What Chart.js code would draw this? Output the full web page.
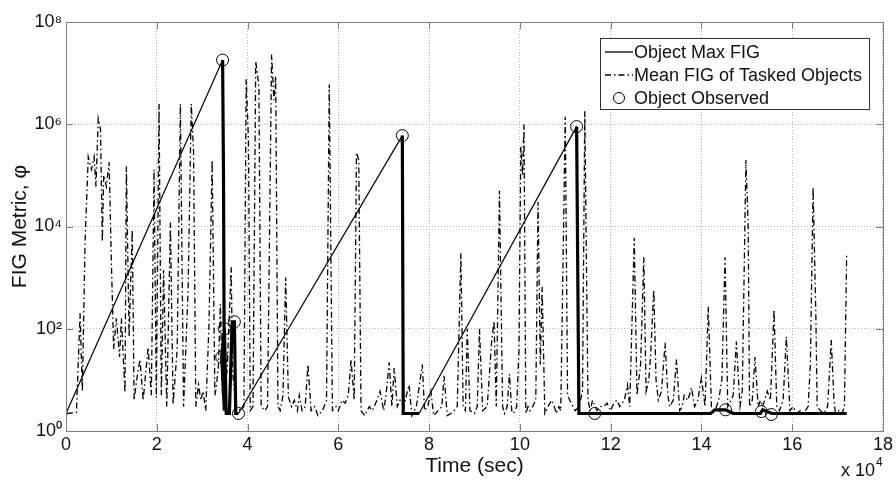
<!DOCTYPE html>
<html>
<head>
<meta charset="utf-8">
<script src="https://cdn.jsdelivr.net/npm/chart.js@4.4.1/dist/chart.umd.min.js"></script>
<style>
  html, body { margin: 0; padding: 0; background: #ffffff; }
  #wrap { width: 896px; height: 483px; }
</style>
</head>
<body>
<div id="wrap"><canvas id="figChart" width="896" height="483"></canvas></div>
<script>
'use strict';

/* ── Data (time in units of 1e4 sec) ─────────────── */
var yTickVals = [1, 1e2, 1e4, 1e6, 1e8];

/* Object Max FIG: log-linear ramps, then drops after each observation */
var maxT   = [0,   3.45,  3.47, 3.49, 3.43, 3.49, 3.53, 3.60, 3.66, 3.71, 3.74, 3.80, 7.41,  7.43, 7.78, 11.25, 11.30, 11.65, 14.20, 14.30, 14.53, 14.70, 15.30, 15.35, 15.55, 17.20];
var maxFig = [2.2, 1.8e7, 1e5,  2.5,  28,   100,  2.2,  2.2,  137,  137,  2.2,  2.2,  6.0e5, 2.2,  2.2,  9.0e5, 2.2,   2.2,   2.2,   2.6,   2.6,   2.2,   2.2,   2.6,   2.2,   2.2];

/* Object observed markers */
var obsT   = [3.45,  3.43, 3.49, 3.71, 3.80, 7.41,  11.25, 11.65, 14.53, 15.32, 15.54];
var obsFig = [1.8e7, 28,   100,  137,  2.2,  6.0e5, 9.0e5, 2.2,   2.6,   2.4,   2.1];

/* Mean FIG of tasked objects */
var meanT = [
  0.02, 0.23, 0.31, 0.36, 0.42, 0.49, 0.56, 0.62, 0.66, 0.71, 0.76, 0.80, 0.83, 0.89, 0.95,
  1.00, 1.05, 1.11, 1.18, 1.22, 1.30, 1.33, 1.39, 1.46, 1.50, 1.57, 1.63, 1.70, 1.76, 1.81,
  1.88, 1.94, 1.99, 2.05, 2.10, 2.15, 2.22, 2.30, 2.36, 2.45, 2.52, 2.59, 2.69, 2.76, 2.81,
  2.86, 2.92, 2.97, 3.02, 3.08, 3.15, 3.22, 3.28, 3.31, 3.36, 3.40, 3.45, 3.55, 3.64, 3.67,
  3.75, 3.85, 3.92, 3.97, 4.02, 4.06, 4.12, 4.18, 4.25, 4.30, 4.38, 4.44, 4.53, 4.58, 4.62,
  4.67, 4.72, 4.78, 4.84, 4.90, 4.97, 5.03, 5.10, 5.14, 5.20, 5.27, 5.33, 5.40, 5.48, 5.55,
  5.65, 5.74, 5.80, 5.87, 5.95, 6.00, 6.08, 6.15, 6.22, 6.28, 6.35, 6.40, 6.45, 6.50, 6.58,
  6.68, 6.75, 6.85, 6.92, 7.00, 7.05, 7.12, 7.18, 7.23, 7.30, 7.36, 7.45, 7.50, 7.56, 7.62,
  7.72, 7.85, 7.90, 7.97, 8.04, 8.10, 8.20, 8.28, 8.33, 8.40, 8.48, 8.55, 8.62, 8.70, 8.75,
  8.80, 8.84, 8.90, 9.00, 9.06, 9.11, 9.18, 9.28, 9.38, 9.43, 9.48, 9.55, 9.62, 9.66, 9.72,
  9.77, 9.82, 9.86, 9.93, 9.98, 10.02, 10.06, 10.09, 10.13, 10.18, 10.22, 10.28, 10.35, 10.40, 10.45,
  10.49, 10.55, 10.62, 10.70, 10.76, 10.80, 10.86, 10.90, 11.00, 11.05, 11.10, 11.17, 11.22, 11.30, 11.38,
  11.43, 11.50, 11.55, 11.60, 11.70, 11.78, 11.85, 11.92, 12.00, 12.07, 12.14, 12.20, 12.30, 12.37, 12.42,
  12.52, 12.58, 12.66, 12.73, 12.78, 12.84, 12.88, 12.95, 13.00, 13.05, 13.12, 13.20, 13.26, 13.30, 13.38,
  13.45, 13.52, 13.58, 13.62, 13.70, 13.78, 13.85, 13.92, 14.00, 14.08, 14.15, 14.22, 14.30, 14.38, 14.45,
  14.52, 14.58, 14.65, 14.70, 14.77, 14.85, 14.90, 14.98, 15.03, 15.06, 15.12, 15.18, 15.25, 15.30, 15.35,
  15.45, 15.52, 15.60, 15.66, 15.72, 15.80, 15.87, 15.95, 16.02, 16.10, 16.18, 16.25, 16.35, 16.40, 16.46,
  16.52, 16.55, 16.62, 16.70, 16.78, 16.86, 16.92, 16.95, 17.02, 17.10, 17.15, 17.20
];
var meanFig = [
  2.2, 2.3, 200, 6, 5000, 2.3e5, 1.3e5, 2.3e5, 6e4, 1.3e6, 8e5, 5000, 1e5, 6e4, 1.8e5,
  2000, 40, 160, 28, 160, 5.6, 1.5e5, 70, 8700, 4, 12, 25, 4, 15, 43,
  5, 1.3e5, 4.5, 2.5e6, 5, 1400, 3, 1.2e4, 3.3, 40, 2.5e6, 3, 580, 2.5e6, 3e5,
  3, 8, 4, 6, 2.5, 120, 2e5, 5, 7, 20, 300, 5, 15, 1600, 14,
  3, 2.5, 3, 7.6e6, 5e5, 2.5, 3, 1.7e7, 5.6e6, 3, 2.5, 3, 2.3e7, 3e6, 8.7e6,
  3, 2.5, 5, 1000, 4.6, 3, 4, 2.5, 5, 2.5, 3, 20, 2.5, 3, 2,
  2.5, 4, 6e6, 2.5, 3, 2.5, 4, 3.5, 5, 25, 4, 2.8e5, 2e5, 2.5, 2,
  3, 2.5, 4, 6, 2.5, 5, 22, 3, 17, 3, 4, 3, 5, 8, 2,
  3, 20, 2.5, 3, 6, 2, 2.5, 3, 12, 2, 2.2, 2.5, 3, 3000, 3,
  2.5, 100, 2.5, 2.2, 3, 100, 2.5, 3, 60, 140, 3, 5e4, 3, 2.2, 3,
  13, 2.5, 2.2, 3, 40, 3.7e5, 1e5, 1e6, 2.2, 3, 2.5, 3, 4, 3e4, 20,
  660, 2.2, 3, 4, 3, 2.2, 3, 2.5, 1.4e6, 5, 4, 3, 2.5, 3, 6,
  1.8e6, 4, 2.5, 4, 2.5, 3, 3, 3.5, 2.5, 3.5, 4, 3, 4, 8, 3,
  6000, 5, 20, 2500, 6, 10, 30, 580, 10, 4, 6, 53, 5, 3, 4,
  25, 2.5, 3, 5, 4, 7, 3, 4, 11, 3, 270, 3, 2.5, 4, 10,
  2500, 3, 4, 5, 56, 3, 6, 2e5, 1e4, 3, 4, 28, 3, 4, 3,
  6, 4, 235, 3, 2.5, 4, 70, 2.5, 3, 2.2, 2.5, 2.2, 3, 20, 5.8e4,
  200, 3, 2.5, 2.2, 3, 60, 4, 2.3, 2.5, 2.2, 3, 3000
];

var seriesLabels = ['Object Max FIG', 'Mean FIG of Tasked Objects', 'Object Observed'];

/* ── Helpers ────────────────────────────────────── */
function _pairs(xs, ys) {
  return xs.map(function (x, i) { return { x: x, y: ys[i] }; });
}
var _sup = { 0: '\u2070', 2: '\u00b2', 4: '\u2074', 6: '\u2076', 8: '\u2078' };

var FONT = "'Liberation Sans', Arial, sans-serif";
var AXIS_GRAY = '#7f7f7f';

/* ── Plugins: white bg, axes box w/ inward ticks, legend, exponent ── */
var matlabFrame = {
  id: 'matlabFrame',
  beforeDraw: function (chart) {
    var ctx = chart.ctx;
    ctx.save();
    ctx.fillStyle = '#ffffff';
    ctx.fillRect(0, 0, chart.width, chart.height);
    ctx.restore();
  },
  afterDraw: function (chart) {
    var ctx = chart.ctx, a = chart.chartArea;
    var xs = chart.scales.x, ys = chart.scales.y;
    ctx.save();
    ctx.strokeStyle = AXIS_GRAY;
    ctx.lineWidth = 1;
    ctx.strokeRect(Math.round(a.left) + 0.5, Math.round(a.top) + 0.5,
                   Math.round(a.right - a.left), Math.round(a.bottom - a.top));
    ctx.beginPath();
    xs.ticks.forEach(function (t) {
      var px = Math.round(xs.getPixelForValue(t.value)) + 0.5;
      ctx.moveTo(px, a.bottom); ctx.lineTo(px, a.bottom - 7);
      ctx.moveTo(px, a.top);    ctx.lineTo(px, a.top + 7);
    });
    ys.ticks.forEach(function (t) {
      var py = Math.round(ys.getPixelForValue(t.value)) + 0.5;
      ctx.moveTo(a.left, py);  ctx.lineTo(a.left + 7, py);
      ctx.moveTo(a.right, py); ctx.lineTo(a.right - 7, py);
    });
    ctx.stroke();

    /* x 10^4 multiplier */
    ctx.fillStyle = '#111';
    ctx.font = '18px ' + FONT;
    ctx.textAlign = 'right';
    ctx.textBaseline = 'alphabetic';
    ctx.fillText('x 10', a.right - 8, chart.height - 7);
    ctx.font = '12px ' + FONT;
    ctx.textAlign = 'left';
    ctx.fillText('4', a.right - 7, chart.height - 17);

    /* legend box */
    var lx = 600, ly = 38, lw = 269, lh = 71;
    ctx.fillStyle = '#ffffff';
    ctx.fillRect(lx, ly, lw, lh);
    ctx.strokeStyle = '#333';
    ctx.strokeRect(lx + 0.5, ly + 0.5, lw, lh);
    var rows = [ly + 14, ly + 37, ly + 60];
    ctx.strokeStyle = '#000';
    ctx.lineWidth = 1.3;
    ctx.beginPath(); ctx.moveTo(605, rows[0]); ctx.lineTo(633, rows[0]); ctx.stroke();
    ctx.setLineDash([6, 3, 1.5, 3]);
    ctx.beginPath(); ctx.moveTo(605, rows[1]); ctx.lineTo(633, rows[1]); ctx.stroke();
    ctx.setLineDash([]);
    ctx.lineWidth = 1;
    ctx.beginPath(); ctx.arc(619, rows[2], 5.5, 0, Math.PI * 2); ctx.stroke();
    ctx.fillStyle = '#111';
    ctx.font = '18px ' + FONT;
    ctx.textBaseline = 'middle';
    ctx.textAlign = 'left';
    seriesLabels.forEach(function (s, i) { ctx.fillText(s, 634, rows[i] + 1); });
    ctx.restore();
  }
};

/* ── Chart ──────────────────────────────────────── */
new Chart(document.getElementById('figChart'), {
  type: 'line',
  data: {
    datasets: [
      {
        label: seriesLabels[1],
        data: _pairs(meanT, meanFig),
        borderColor: '#000', borderWidth: 1.3,
        borderDash: [6, 3, 1.5, 3],
        pointRadius: 0, tension: 0, fill: false, order: 3
      },
      {
        label: seriesLabels[0],
        data: _pairs(maxT, maxFig),
        borderColor: '#000', borderWidth: 1.2,
        pointRadius: 0, tension: 0, fill: false, order: 2,
        segment: {
          /* ramps are thin, drops and the floor are drawn heavy */
          borderWidth: function (c) {
            var up = c.p1.parsed.y > c.p0.parsed.y * 50 && (c.p1.parsed.x - c.p0.parsed.x) > 1;
            return up ? 1.2 : 3.2;
          }
        }
      },
      {
        label: seriesLabels[2],
        data: _pairs(obsT, obsFig),
        showLine: false,
        pointStyle: 'circle', pointRadius: 6, pointHoverRadius: 6,
        pointBorderColor: '#000', pointBackgroundColor: 'rgba(0,0,0,0)',
        pointBorderWidth: 1, order: 1
      }
    ]
  },
  options: {
    responsive: false, animation: false,
    layout: { padding: { left: 0, right: 11, top: 22, bottom: 0 } },
    plugins: { legend: { display: false }, tooltip: { enabled: false } },
    scales: {
      x: {
        type: 'linear', min: 0, max: 18,
        ticks: { stepSize: 2, color: '#111', padding: 3, font: { family: FONT, size: 18 } },
        grid: { color: '#b5b5b5', lineWidth: 1, drawTicks: false },
        border: { display: false, dash: [1, 2] },
        title: { display: true, text: 'Time (sec)', color: '#111', padding: { top: 0, bottom: 4 }, font: { family: FONT, size: 21 } },
        afterFit: function (s) { s.height = 52; }
      },
      y: {
        type: 'logarithmic', min: 1, max: 1e8,
        afterBuildTicks: function (s) { s.ticks = yTickVals.map(function (v) { return { value: v }; }); },
        ticks: {
          color: '#111', padding: 4, font: { family: FONT, size: 18 },
          callback: function (v) { return '10' + _sup[Math.round(Math.log10(v))]; }
        },
        grid: { color: '#b5b5b5', lineWidth: 1, drawTicks: false },
        border: { display: false, dash: [1, 2] },
        title: { display: true, text: 'FIG Metric, \u03c6', color: '#111', padding: { top: 8, bottom: 4 }, font: { family: FONT, size: 21 } },
        afterFit: function (s) { s.width = 66; }
      }
    }
  },
  plugins: [matlabFrame]
});
</script>
</body>
</html>
